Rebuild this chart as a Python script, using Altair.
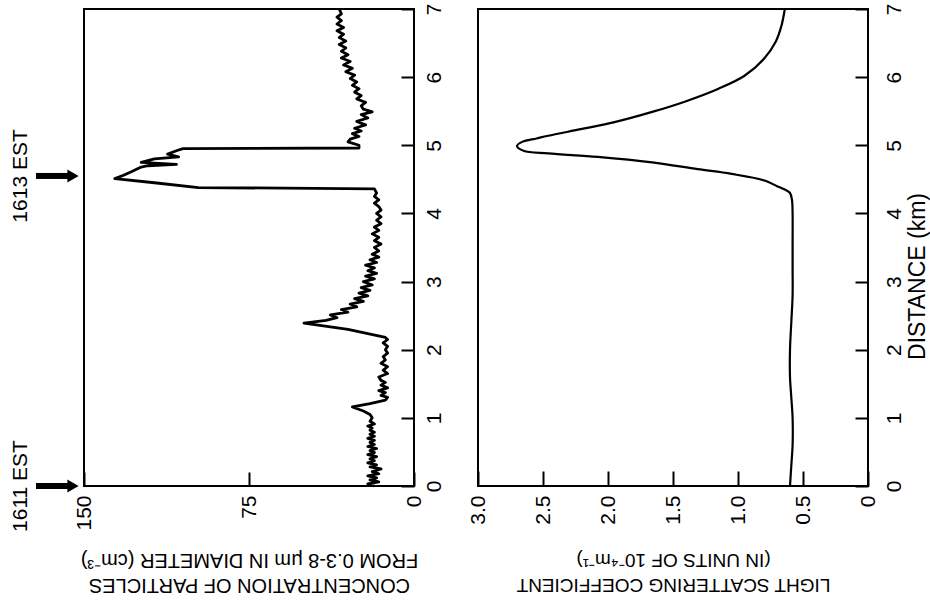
import altair as alt
import pandas as pd

# ---------------- data ----------------
conc_dist = [0.00, 0.03, 0.06, 0.09, 0.12, 0.15, 0.18, 0.21, 0.25, 0.28, 0.31, 0.34, 0.37, 0.40,
             0.43, 0.46, 0.49, 0.52, 0.55, 0.58, 0.61, 0.64, 0.67, 0.70, 0.73, 0.76, 0.79, 0.82,
             0.85, 0.88, 0.91, 0.95, 1.00, 1.05, 1.10, 1.16, 1.21, 1.26, 1.30, 1.33, 1.37, 1.40,
             1.44, 1.48, 1.52, 1.55, 1.60, 1.65, 1.70, 1.75, 1.80, 1.85, 1.90, 1.95, 2.00, 2.05,
             2.10, 2.15, 2.18, 2.30, 2.39, 2.43, 2.47, 2.51, 2.55, 2.59, 2.63, 2.67, 2.71, 2.75,
             2.79, 2.83, 2.87, 2.91, 2.95, 3.00, 3.04, 3.08, 3.12, 3.16, 3.20, 3.24, 3.28, 3.32,
             3.36, 3.40, 3.45, 3.50, 3.55, 3.60, 3.65, 3.70, 3.75, 3.80, 3.85, 3.90, 3.95, 4.00,
             4.05, 4.10, 4.15, 4.20, 4.25, 4.30, 4.36, 4.38, 4.45, 4.51, 4.56, 4.62, 4.68, 4.70,
             4.72, 4.75, 4.80, 4.83, 4.87, 4.92, 4.95, 4.96, 5.00, 5.05, 5.09, 5.13, 5.17, 5.21,
             5.25, 5.30, 5.35, 5.40, 5.45, 5.49, 5.53, 5.58, 5.63, 5.68, 5.73, 5.78, 5.83, 5.88,
             5.93, 5.98, 6.03, 6.08, 6.13, 6.18, 6.23, 6.28, 6.33, 6.38, 6.43, 6.48, 6.53, 6.58,
             6.63, 6.68, 6.73, 6.78, 6.83, 6.88, 6.93, 7.00]
conc_value = [18, 21, 16, 20, 17, 21, 16, 19, 15, 20, 17, 21, 18, 20,
              17, 21, 18, 20, 17, 21, 18, 20, 18, 21, 18, 20, 18, 20,
              19, 21, 18, 20, 19, 20, 23, 28, 20, 13, 12, 15, 13, 16,
              12, 15, 13, 15, 16, 12, 14, 12, 15, 13, 14, 12, 13, 12,
              14, 12, 13, 30, 50, 40, 35, 38, 30, 33, 26, 29, 23, 27,
              21, 25, 20, 24, 19, 23, 18, 22, 17, 21, 18, 22, 17, 20,
              16, 19, 16, 18, 15, 18, 16, 19, 16, 18, 15, 17, 15, 17,
              15, 16, 18, 16, 18, 17, 18, 98, 118, 136, 132, 128, 124, 121,
              108, 124, 118, 107, 112, 108, 105, 25, 25, 30, 29, 25, 28, 24,
              27, 22, 26, 21, 24, 19, 23, 24, 22, 26, 24, 27, 25, 28,
              26, 29, 27, 31, 28, 32, 29, 33, 30, 33, 31, 34, 31, 34,
              32, 35, 32, 35, 33, 35, 33, 34]

scat_dist = [0.0, 0.3, 0.6, 1.0, 1.3, 1.6, 2.0, 2.4, 2.8, 3.2, 3.6, 4.0, 4.2, 4.3, 4.35, 4.40,
             4.48, 4.58, 4.65, 4.75, 4.83, 4.88, 4.92, 4.99, 5.05, 5.10, 5.14, 5.24, 5.34, 5.49,
             5.64, 5.83, 6.02, 6.27, 6.52, 6.76, 7.0]
scat_value = [0.60, 0.59, 0.58, 0.58, 0.59, 0.60, 0.60, 0.59, 0.58, 0.58, 0.58, 0.58, 0.585, 0.60,
              0.64, 0.70, 0.79, 1.05, 1.31, 1.66, 2.08, 2.46, 2.65, 2.70, 2.66, 2.55, 2.46, 2.20,
              1.95, 1.66, 1.41, 1.15, 0.95, 0.80, 0.71, 0.665, 0.64]

event_labels = ["1611 EST", "1613 EST"]
event_dist = [0.0, 4.55]

conc_ticks = [150, 75, 0]
scat_ticks = [0, 0.5, 1.0, 1.5, 2.0, 2.5, 3.0]
dist_ticks = [0, 1, 2, 3, 4, 5, 6, 7]

conc_title = ["CONCENTRATION OF PARTICLES", "FROM 0.3-8 μm IN DIAMETER (cm⁻³)"]
scat_title = ["LIGHT SCATTERING COEFFICIENT", "(IN UNITS OF 10⁻⁴m⁻¹)"]
dist_title = "DISTANCE (km)"

df_c = pd.DataFrame({"dist": conc_dist, "conc": conc_value})
df_s = pd.DataFrame({"dist": scat_dist, "scat": scat_value})
df_e = pd.DataFrame({"label": event_labels, "dist": event_dist})

FONT = "Liberation Sans"
W1, W2, H = 330, 390, 477

dist_scale = alt.Scale(domain=[0, 7], nice=False, zero=False)


def dist_axis(pad, title=None, **kw):
    args = dict(orient="right", values=dist_ticks, format="d", labelAngle=-90, labelAlign="center",
                labelBaseline="top", tickSize=13, offset=-13, labelPadding=pad,
                domain=False, grid=False, tickWidth=2, tickColor="black", labelFlush=False)
    args.update(kw)
    args["title"] = title
    return alt.Axis(**args)


# ---------------- left panel ----------------
line_c = alt.Chart(df_c).mark_line(color="black", strokeWidth=2.8, strokeJoin="round").encode(
    x=alt.X("conc:Q",
            scale=alt.Scale(domain=[0, 150], reverse=True, nice=False, zero=True),
            axis=alt.Axis(values=conc_ticks, title=conc_title, titleAngle=180,
                          titleBaseline="bottom", titlePadding=44, titleLineHeight=25,
                          titleFontSize=20,
                          labelAngle=-90, labelAlign="right", labelBaseline="middle",
                          tickSize=14, offset=-14, labelPadding=9, domain=False, grid=False,
                          tickWidth=2, tickColor="black", labelFlush=False)),
    y=alt.Y("dist:Q", scale=dist_scale, axis=dist_axis(9)),
    order=alt.Order("dist:Q"),
)

ev_text = alt.Chart(df_e).mark_text(angle=270, fontSize=21, font=FONT, color="black",
                                    align="center", baseline="middle").encode(
    y="dist:Q", x=alt.value(-63), text="label:N")
ev_shaft = alt.Chart(df_e).mark_rule(color="black", strokeWidth=6).encode(
    y="dist:Q", x=alt.value(-48), x2=alt.value(-16))
ev_head = alt.Chart(df_e).mark_point(shape="triangle-right", filled=True, color="black",
                                     size=170, opacity=1).encode(
    y="dist:Q", x=alt.value(-11))

left = alt.layer(line_c, ev_shaft, ev_head, ev_text).properties(width=W1, height=H)

# ---------------- right panel ----------------
line_s = alt.Chart(df_s).mark_line(color="black", strokeWidth=2.2, interpolate="catmull-rom").encode(
    x=alt.X("scat:Q",
            scale=alt.Scale(domain=[0, 3], reverse=True, nice=False),
            axis=alt.Axis(values=scat_ticks, title=scat_title, titleAngle=180,
                          titleBaseline="bottom", titlePadding=50, titleLineHeight=25,
                          titleFontSize=19,
                          labelExpr="datum.value == 0 ? '0' : format(datum.value, '.1f')",
                          labelAngle=-90, labelAlign="right", labelBaseline="middle",
                          tickSize=15, offset=-15, labelPadding=9, domain=False, grid=False,
                          tickWidth=2, tickColor="black", labelFlush=False)),
    y=alt.Y("dist:Q", scale=dist_scale,
            axis=dist_axis(15, title=dist_title, titleAngle=-90, titleX=62, titleY=267,
                           titleAlign="center", titleBaseline="middle", titleFontSize=23)),
    order=alt.Order("dist:Q"),
)

right = alt.layer(line_s).properties(width=W2, height=H)

chart = alt.hconcat(left, right, spacing=21).properties(
    padding={"left": 9, "top": 2, "right": 0, "bottom": 0},
    background="white",
).configure_view(
    stroke="black", strokeWidth=2
).configure_axis(
    labelFont=FONT, labelFontSize=21, labelColor="black",
    titleFont=FONT, titleFontSize=19, titleFontWeight="normal", titleColor="black",
)

chart.save("out.html", embed_options={"renderer": "svg", "actions": False})
